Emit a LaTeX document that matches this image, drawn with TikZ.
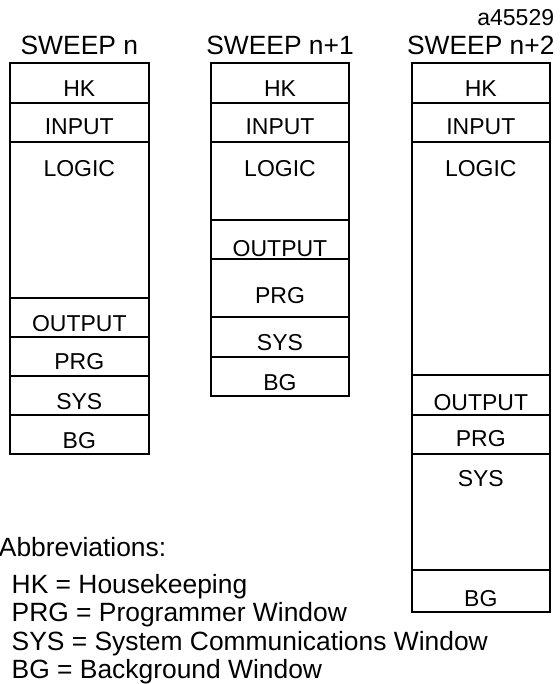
\documentclass[tikz,border=0pt]{standalone}
\usepackage{fontspec}
\setmainfont{Liberation Sans}
\usetikzlibrary{positioning}
\tikzstyle{cell} = [draw=black, line width=0.9pt]
\tikzstyle{celltext} = [anchor=base, inner sep=0pt, font=\fontsize{11.5}{13}\selectfont]
\tikzstyle{title} = [anchor=base, inner sep=0pt, font=\fontsize{13.2}{15}\selectfont]

\begin{document}
\begin{tikzpicture}[x=0.5pt, y=-0.5pt]
\useasboundingbox (0,0) rectangle (560,684);

% Sweep n
\foreach \t/\b/\y/\lab [count=\i] in {63.3/102.7/96.7/HK, 102.7/142/135/INPUT, 142/298.3/176.7/LOGIC, 298.3/337.3/331.7/OUTPUT, 337.3/376/369.3/PRG, 376/414.7/409.3/SYS, 414.7/454/448.3/BG}{
  \draw[cell] (10,\t) rectangle (148.7,\b);
  \node[celltext] (sa\i) at (79.3,\y) {\lab};
}

% Sweep n+1
\foreach \t/\b/\y/\lab [count=\i] in {63.3/102.7/96.7/HK, 102.7/142/135/INPUT, 142/220/176.7/LOGIC, 220/259.3/256.7/OUTPUT, 259.3/317.3/303/PRG, 317.3/356.7/350.7/SYS, 356.7/396/390/BG}{
  \draw[cell] (210.7,\t) rectangle (349.3,\b);
  \node[celltext] (sb\i) at (280,\y) {\lab};
}

% Sweep n+2
\foreach \t/\b/\y/\lab [count=\i] in {63.3/102.7/96.7/HK, 102.7/142/135/INPUT, 142/375/176.7/LOGIC, 375/415/410/OUTPUT, 415/454/446.7/PRG, 454/570/486.7/SYS, 570/611.7/606.7/BG}{
  \draw[cell] (411.7,\t) rectangle (550,\b);
  \node[celltext] (sc\i) at (480.8,\y) {\lab};
}

% Titles
\node[title] (sweepa) at (79.3,55) {SWEEP n};
\node[title] (sweepb) at (280,55) {SWEEP n+1};
\node[title] (sweepc) at (480.8,55) {SWEEP n+2};
\node[celltext, anchor=base east] (figno) at (554.5,26) {a45529};

% Abbreviations
\node[title, anchor=base west] (abbr) at (-1.5,556.7) {Abbreviations:};
\foreach \y/\lab [count=\i] in {593/HK = Housekeeping, 621.7/PRG = Programmer Window, 650/SYS = System Communications Window, 678.3/BG = Background Window}{
  \node[title, anchor=base west] (ab\i) at (11.3,\y) {\lab};
}
\end{tikzpicture}
\end{document}
